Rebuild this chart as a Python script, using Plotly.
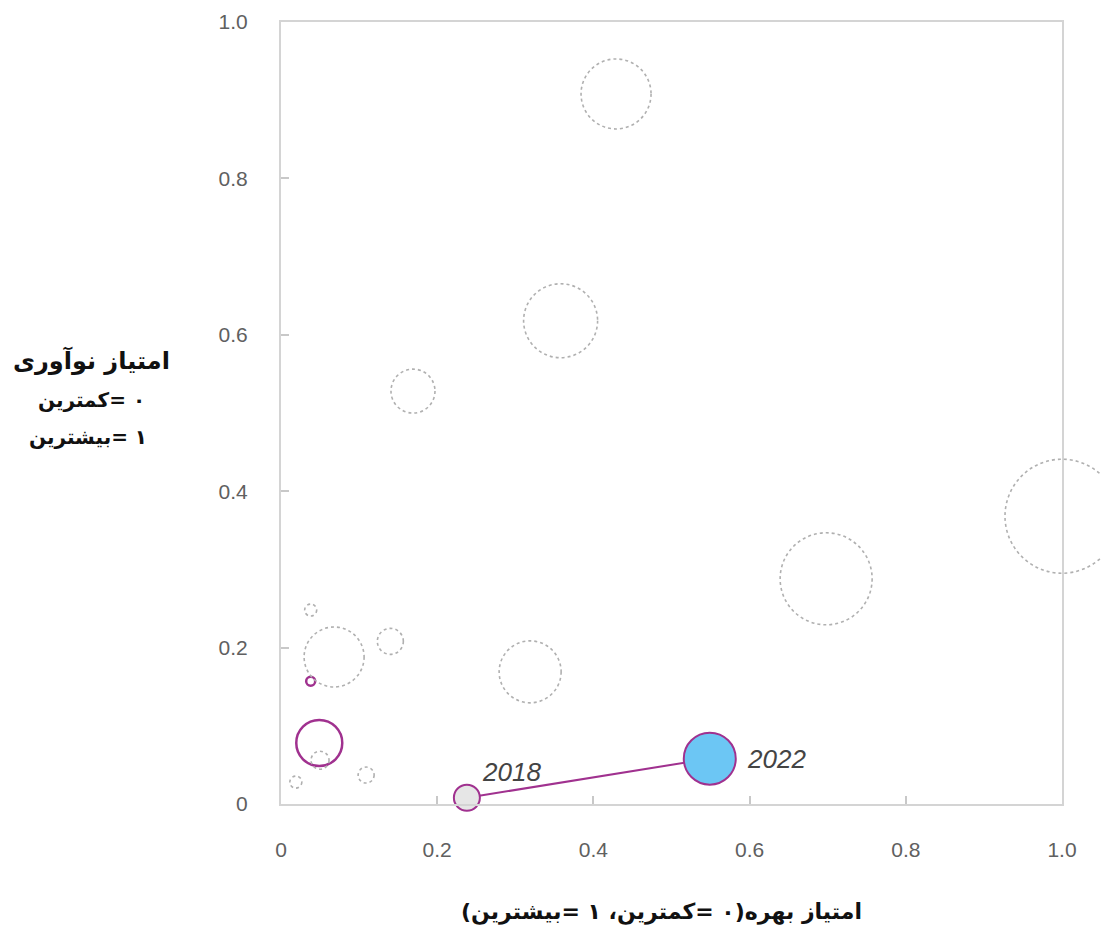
import plotly.graph_objects as go

# ---- data ----
# background (context) bubbles
bg_x = [0.429, 0.358, 0.169, 1.0, 0.698, 0.319, 0.068, 0.140, 0.038, 0.050, 0.109, 0.019]
bg_y = [0.908, 0.618, 0.528, 0.368, 0.288, 0.169, 0.188, 0.208, 0.248, 0.056, 0.037, 0.028]
bg_size = [35, 37, 22, 57, 46, 31, 30, 13, 6, 9, 8, 6]

# purple outlined bubbles
pu_x = [0.038, 0.049]
pu_y = [0.157, 0.078]
pu_size = [4.5, 23]

# highlighted series (2018 -> 2022)
hl_year = ["2018", "2022"]
hl_x = [0.238, 0.549]
hl_y = [0.008, 0.058]
hl_size = [13, 26]

tick_vals = [0, 0.2, 0.4, 0.6, 0.8, 1.0]
tick_text = ["0", "0.2", "0.4", "0.6", "0.8", "1.0"]

RLM = "\u200f"


def rtl(s):
    # render as a right-to-left run
    return RLM + s + RLM


x_title = rtl("امتیاز بهره(۰ =کمترین، ۱ =بیشترین)")
y_title_1 = rtl("امتیاز نوآوری")
y_title_2 = rtl("۰ =کمترین")
y_title_3 = rtl("۱ =بیشترین")

PURPLE = "#a0318f"
BLUE = "#6cc6f4"
GRAYFILL = "#e6e6e6"
DASH = "#b0b0b0"
FRAME = "#d4d4d4"

XR = [0, 1]
YR = [0, 1]

fig = go.Figure()

# dashed background circles as pixel-sized shapes anchored at data values
for x, y, r in zip(bg_x, bg_y, bg_size):
    fig.add_shape(
        type="circle",
        xref="x domain", yref="y domain",
        xsizemode="pixel", ysizemode="pixel",
        xanchor=(x - XR[0]) / (XR[1] - XR[0]),
        yanchor=(y - YR[0]) / (YR[1] - YR[0]),
        x0=-r, x1=r, y0=-r, y1=r,
        line=dict(color=DASH, width=1.6, dash="3px,3px"),
        fillcolor="rgba(0,0,0,0)",
        layer="above",
    )

# purple outlined bubbles
fig.add_trace(go.Scatter(
    x=pu_x, y=pu_y, mode="markers",
    marker=dict(size=[2 * s for s in pu_size], color="rgba(255,255,255,0)", opacity=1,
                line=dict(color=PURPLE, width=2.5)),
    cliponaxis=False, hoverinfo="skip", showlegend=False,
))

# connecting line
fig.add_trace(go.Scatter(
    x=hl_x, y=hl_y, mode="lines",
    line=dict(color=PURPLE, width=2),
    cliponaxis=False, hoverinfo="skip", showlegend=False,
))

# highlighted points
fig.add_trace(go.Scatter(
    x=hl_x, y=hl_y, mode="markers",
    marker=dict(size=[2 * s for s in hl_size], color=[GRAYFILL, BLUE],
                line=dict(color=PURPLE, width=2), opacity=1),
    cliponaxis=False, hoverinfo="skip", showlegend=False,
))

# year labels
label_shift = [(13, 26), (35, 0)]
for yr, x, y, (dx, dy) in zip(hl_year, hl_x, hl_y, label_shift):
    fig.add_annotation(
        x=x, y=y, xref="x", yref="y", text=yr, showarrow=False,
        xanchor="left", yanchor="middle", xshift=dx, yshift=dy,
        font=dict(family="Liberation Sans, Arial, sans-serif", size=26,
                  color="#444444", style="italic"),
    )

axis_common = dict(
    range=[0, 1], showgrid=False, zeroline=False,
    showline=True, mirror=True, linecolor=FRAME, linewidth=2,
    ticks="inside", ticklen=8, tickwidth=1.5, tickcolor="#c8c8c8",
    tickvals=tick_vals, ticktext=tick_text,
    tickfont=dict(family="Liberation Sans, Arial, sans-serif", size=21, color="#606060"),
    fixedrange=True, automargin=False,
)

# browser body has an 8px default margin; figure is sized so the page does not overflow
fig.update_layout(
    width=1101, height=922,
    margin=dict(l=273, r=47, t=14, b=126),
    paper_bgcolor="white", plot_bgcolor="white",
    xaxis=dict(**axis_common, ticklabelstandoff=26),
    yaxis=dict(**axis_common, ticklabelstandoff=27),
    showlegend=False,
)

TF = "DejaVu Sans, Noto Sans, sans-serif"


def py(p):
    return (804 - p) / 782


def px(p):
    return (p - 281) / 781


def title_text(text, cx, cy, size):
    fig.add_annotation(x=px(cx), y=py(cy), xref="paper", yref="paper", showarrow=False,
                       text="<b>" + text + "</b>",
                       font=dict(family=TF, size=size, color="#111111"),
                       xanchor="center", yanchor="middle")


title_text(y_title_1, 91, 360, 24)
title_text(y_title_2, 91, 400, 20)
title_text(y_title_3, 88, 437, 20)
title_text(x_title, 661, 912, 22)

fig.write_html("out.html")
